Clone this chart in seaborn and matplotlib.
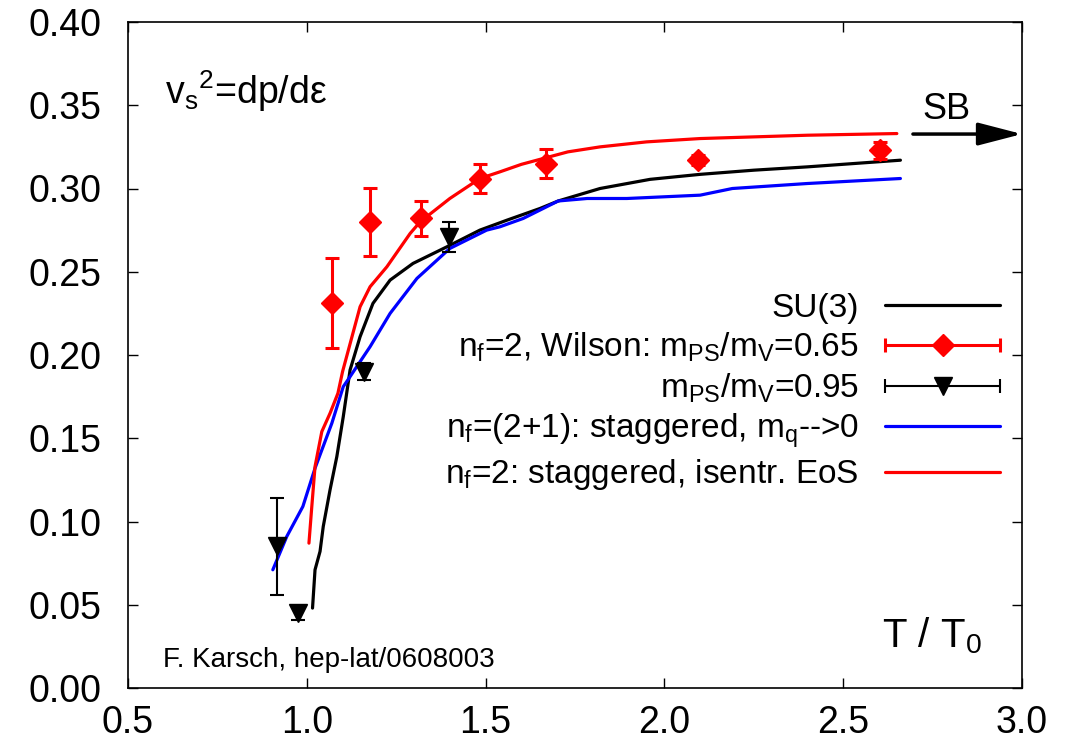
import matplotlib
matplotlib.use("Agg")
import matplotlib.pyplot as plt
import seaborn as sns
from matplotlib.lines import Line2D
from matplotlib.legend_handler import HandlerBase

# ---------------- data ----------------
su3_x = [1.016, 1.023, 1.037, 1.046, 1.065, 1.084, 1.102, 1.121, 1.149, 1.185, 1.233,
         1.297, 1.392, 1.484, 1.56, 1.652, 1.703, 1.82, 1.96, 2.10, 2.25, 2.40, 2.66]
su3_y = [0.048, 0.071, 0.082, 0.097, 0.119, 0.139, 0.163, 0.191, 0.211, 0.231, 0.245,
         0.255, 0.265, 0.275, 0.281, 0.288, 0.2925, 0.300, 0.3055, 0.3085, 0.311, 0.313, 0.317]

isen_x = [1.006, 1.014, 1.023, 1.042, 1.065, 1.087, 1.10, 1.149, 1.177, 1.224, 1.289,
          1.317, 1.40, 1.484, 1.54, 1.60, 1.652, 1.73, 1.82, 1.95, 2.10, 2.40, 2.65]
isen_y = [0.087, 0.109, 0.133, 0.154, 0.165, 0.177, 0.190, 0.229, 0.241, 0.253, 0.273,
          0.280, 0.294, 0.306, 0.310, 0.3145, 0.3175, 0.322, 0.325, 0.328, 0.330, 0.332, 0.333]

stag_x = [0.905, 0.944, 0.989, 1.023, 1.070, 1.102, 1.121, 1.177, 1.233, 1.308, 1.40,
          1.503, 1.54, 1.605, 1.703, 1.784, 1.895, 2.10, 2.19, 2.40, 2.66]
stag_y = [0.071, 0.091, 0.109, 0.132, 0.159, 0.181, 0.187, 0.205, 0.225, 0.246, 0.264,
          0.275, 0.277, 0.282, 0.2925, 0.294, 0.294, 0.296, 0.300, 0.303, 0.306]

w65_x = [1.070, 1.177, 1.318, 1.485, 1.669, 2.094, 2.603]
w65_y = [0.231, 0.280, 0.282, 0.306, 0.315, 0.317, 0.323]
w65_err = [0.027, 0.0205, 0.0105, 0.0085, 0.0085, 0.003, 0.005]

w95_x = [0.917, 0.975, 1.160, 1.398]
w95_y = [0.085, 0.045, 0.190, 0.271]
w95_err = [0.029, 0.004, 0.005, 0.009]

legend_labels = [
    "SU(3)",
    r"n$_{f}$=2, Wilson: m$_{PS}$/m$_{V}$=0.65",
    r"m$_{PS}$/m$_{V}$=0.95",
    r"n$_{f}$=(2+1): staggered, m$_{q}$-->0",
    r"n$_{f}$=2: staggered, isentr. EoS",
]
x_ticks = [0.5, 1.0, 1.5, 2.0, 2.5, 3.0]
y_ticks = [0.00, 0.05, 0.10, 0.15, 0.20, 0.25, 0.30, 0.35, 0.40]

# ---------------- style ----------------
sns.set_style("ticks")
plt.rcParams["font.family"] = ["Liberation Sans", "DejaVu Sans"]
plt.rcParams["mathtext.fontset"] = "custom"
plt.rcParams["mathtext.rm"] = "Liberation Sans"
plt.rcParams["mathtext.it"] = "Liberation Sans"
plt.rcParams["mathtext.default"] = "regular"
plt.rcParams["text.color"] = "black"
plt.rcParams["xtick.labelcolor"] = "black"
plt.rcParams["ytick.labelcolor"] = "black"

fig = plt.figure(figsize=(10.83, 7.49), dpi=100)
ax = fig.add_axes([128 / 1083, 1 - 688 / 749, 894 / 1083, 666 / 749])

sns.lineplot(x=su3_x, y=su3_y, color="black", lw=2.3, sort=False, ax=ax)
sns.lineplot(x=stag_x, y=stag_y, color="#0000ff", lw=2.3, sort=False, ax=ax)
sns.lineplot(x=isen_x, y=isen_y, color="#ff0000", lw=2.3, sort=False, ax=ax)

ax.errorbar(w95_x, w95_y, yerr=w95_err, fmt="v", color="black", ms=13,
            elinewidth=1.5, capsize=5, capthick=1.5, zorder=4)
ax.errorbar(w65_x, w65_y, yerr=w65_err, fmt="D", color="#ff0000", ms=11,
            elinewidth=2.2, capsize=5, capthick=2.2, zorder=5)

ax.set_xlim(0.5, 3.0)
ax.set_ylim(0.0, 0.40)
ax.set_xticks(x_ticks)
ax.set_yticks(y_ticks)
ax.set_xticklabels([f"{v:.1f}" for v in x_ticks])
ax.set_yticklabels([f"{v:.2f}" for v in y_ticks])
ax.tick_params(direction="in", top=True, right=True, length=7, width=1,
               labelsize=27, color="black", labelcolor="black")
ax.tick_params(axis="x", pad=12)
ax.tick_params(axis="y", pad=19)
for s in ax.spines.values():
    s.set_visible(True)
    s.set_linewidth(1.2)
    s.set_color("black")
ax.set_xlabel("")
ax.set_ylabel("")

# texts
ax.text(0.603, 0.351, r"v$_{s}{}^{2}$=dp/dε", fontsize=27, ha="left", va="baseline")
ax.text(2.79, 0.342, "SB", fontsize=26, ha="center", va="baseline")
ax.annotate("", xy=(3.0, 0.3327), xytext=(2.695, 0.3327),
            arrowprops=dict(arrowstyle="-|>,head_length=1.35,head_width=0.35",
                            color="black", lw=2.5, mutation_scale=20,
                            shrinkA=0, shrinkB=0),
            annotation_clip=False)
ax.text(2.608, 0.0246, r"T / T$_{0}$", fontsize=29, ha="left", va="baseline")
ax.text(0.598, 0.0126, "F. Karsch, hep-lat/0608003", fontsize=20, ha="left", va="baseline")


# legend
class GPErrHandler(HandlerBase):
    def create_artists(self, legend, orig_handle, xdescent, ydescent, width, height,
                       fontsize, trans):
        c = orig_handle.get_color()
        lw = orig_handle.get_linewidth()
        y = (height - ydescent) / 2.0
        x0, x1 = -xdescent, -xdescent + width
        line = Line2D([x0, x1], [y, y], color=c, lw=lw, solid_capstyle="butt")
        caps = Line2D([x0, x1], [y, y], ls="none", marker="|", ms=10, mew=lw, color=c)
        mk = Line2D([(x0 + x1) / 2], [y], ls="none", marker=orig_handle.get_marker(),
                    ms=orig_handle.get_markersize(), color=c)
        for a in (line, caps, mk):
            a.set_transform(trans)
        return [line, caps, mk]


h_su3 = Line2D([], [], color="black", lw=2.3)
h_w65 = Line2D([], [], color="#ff0000", lw=2.2, marker="D", ms=11)
h_w95 = Line2D([], [], color="black", lw=1.5, marker="v", ms=13)
h_stag = Line2D([], [], color="#0000ff", lw=2.3)
h_isen = Line2D([], [], color="#ff0000", lw=2.3)
leg = ax.legend([h_su3, h_w65, h_w95, h_stag, h_isen], legend_labels,
                handler_map={h_w65: GPErrHandler(), h_w95: GPErrHandler()},
                loc="upper right", bbox_to_anchor=(0.9754, 0.593), frameon=False,
                markerfirst=False, handlelength=3.45, handletextpad=0.78,
                labelspacing=0.21, borderpad=0, borderaxespad=0, fontsize=24)
for col in leg._legend_handle_box.get_children():
    col.align = "right"

fig.savefig("out.png", dpi=100)
